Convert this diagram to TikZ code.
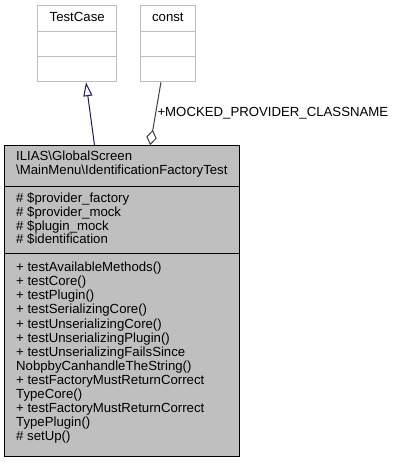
\documentclass[tikz,border=0pt]{standalone}
\usepackage{fontspec}
\setmainfont{Liberation Sans}
\usetikzlibrary{arrows.meta,calc}
\definecolor{classgrey}{RGB}{191,191,191}
\definecolor{inheritblue}{RGB}{25,25,112}
\definecolor{usagegrey}{RGB}{64,64,64}

\begin{document}
\begin{tikzpicture}[x=1pt,y=-1pt,
    every node/.style={font=\fontsize{13.2}{14.1}\selectfont},
    member/.style={anchor=mid west,inner sep=0pt},
    classbox/.style={draw=classgrey,line width=1pt,fill=white,inner sep=0pt,minimum height=76.4pt}]
    \useasboundingbox (0,0) rectangle (400,463);

    % Base class TestCase
    \node[classbox,minimum width=79pt] (testcase) at (77.2,43.5) {};
    \draw[classgrey,line width=1pt] ($(testcase.north west)+(0,26.4)$) -- ($(testcase.north east)+(0,26.4)$);
    \draw[classgrey,line width=1pt] ($(testcase.north west)+(0,51.4)$) -- ($(testcase.north east)+(0,51.4)$);
    \node[anchor=mid,inner sep=0pt] (testcasename) at (77.2,18.4) {TestCase};

    % Used class const
    \node[classbox,minimum width=54.3pt] (const) at (167.85,43.5) {};
    \draw[classgrey,line width=1pt] ($(const.north west)+(0,26.4)$) -- ($(const.north east)+(0,26.4)$);
    \draw[classgrey,line width=1pt] ($(const.north west)+(0,51.4)$) -- ($(const.north east)+(0,51.4)$);
    \node[anchor=mid,inner sep=0pt] (constname) at (167.85,18.4) {const};

    % Test class itself
    \node[draw=black,fill=classgrey,line width=1pt,inner sep=0pt,minimum width=234.6pt,minimum height=311pt] (main) at (122,301.2) {};
    \draw[line width=1pt] ($(main.north west)+(0,41.6)$) -- ($(main.north east)+(0,41.6)$);
    \draw[line width=1pt] ($(main.north west)+(0,108.6)$) -- ($(main.north east)+(0,108.6)$);
    \node[member] (head1) at (16,157.7) {ILIAS\textbackslash GlobalScreen};
    \node[member] (head2) at (16,171.7) {\textbackslash MainMenu\textbackslash IdentificationFactoryTest};

    % Attributes
    \foreach \t [count=\i] in {\# \$provider\_factory,\# \$provider\_mock,\# \$plugin\_mock,\# \$identification}
        \node[member] (attr\i) at (16,{200+13.7*(\i-1)}) {\t};

    % Methods
    \foreach \t [count=\i] in {+ testAvailableMethods(),+ testCore(),+ testPlugin(),+ testSerializingCore(),
        + testUnserializingCore(),+ testUnserializingPlugin(),+ testUnserializingFailsSince,
        NobpbyCanhandleTheString(),+ testFactoryMustReturnCorrect,TypeCore(),
        + testFactoryMustReturnCorrect,TypePlugin(),\# setUp()}
        \node[member] (meth\i) at (16,{269+14.1*(\i-1)}) {\t};

    % Inheritance
    \draw[inheritblue,line width=1pt,-{Triangle[open,length=14pt,width=9pt]}]
        ($(main.north west)+(90.3,0)$) -- ($(testcase.south)+(8.8,0)$);

    % Aggregation
    \draw[usagegrey,line width=1pt,-{Diamond[open,length=15.5pt,width=10.5pt]}]
        ($(const.south)+(-6.9,0)$) -- ($(main.north west)+(146,0)$)
        node[pos=0.55,anchor=base west,inner sep=0pt,text=black,xshift=2pt] (aggrlabel) {+MOCKED\_PROVIDER\_CLASSNAME};
\end{tikzpicture}
\end{document}
